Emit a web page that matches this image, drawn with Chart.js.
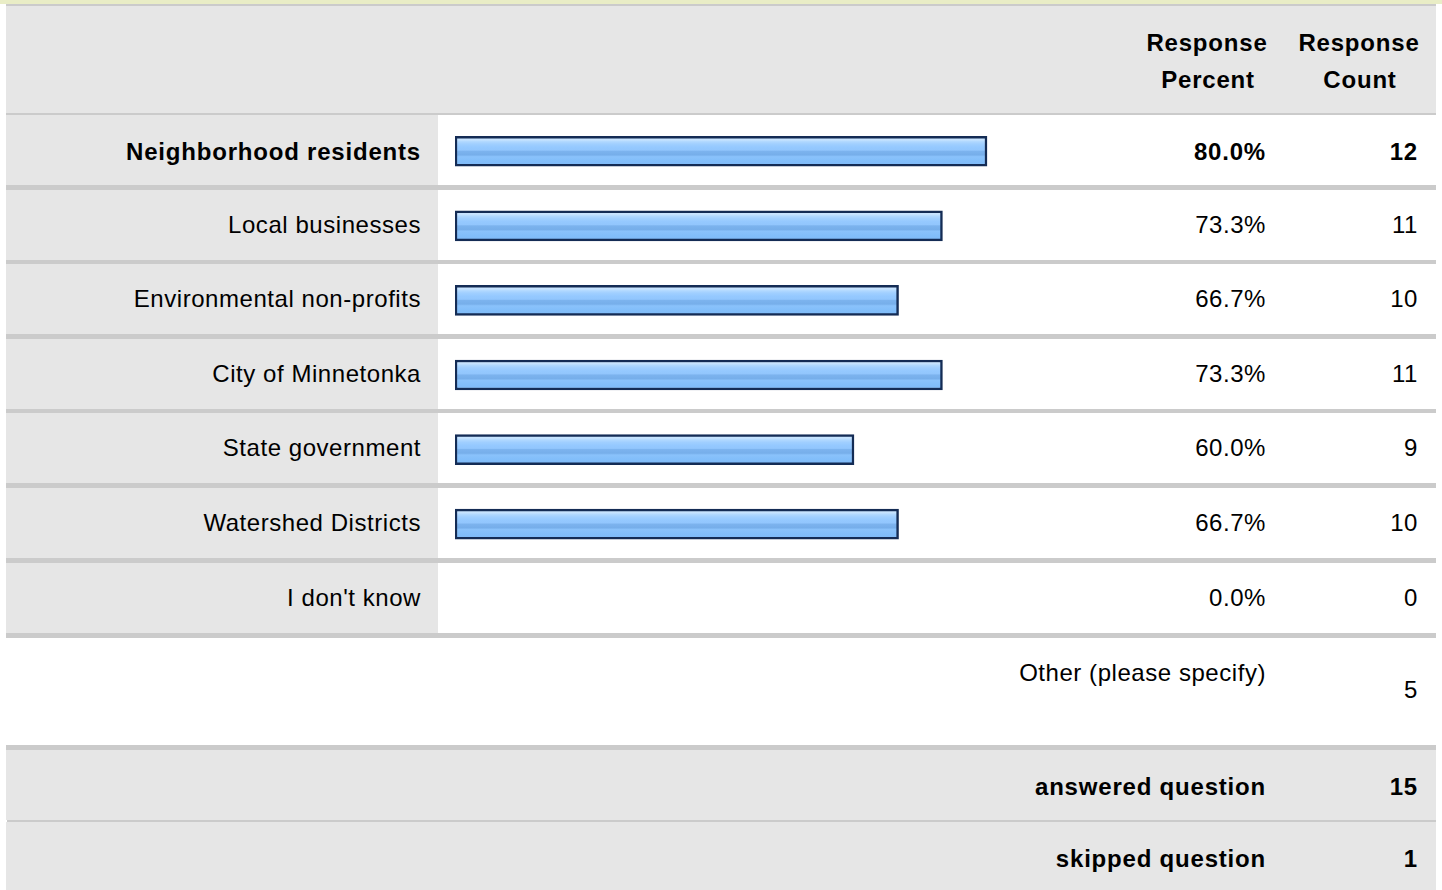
<!DOCTYPE html>
<html>
<head>
<meta charset="utf-8">
<script src="https://cdn.jsdelivr.net/npm/chart.js@4.4.0/dist/chart.umd.min.js"></script>
<style>
  body { margin: 0; width: 1442px; height: 890px; position: relative; overflow: hidden; background: #fff;
         font-family: "Liberation Sans", Arial, Helvetica, sans-serif; color: #000; }
  .box { position: absolute; }
  .txt { position: absolute; font-size: 24px; line-height: 30px; letter-spacing: 0.55px; white-space: nowrap; text-align: right; }
  .b { font-weight: bold; letter-spacing: 0.8px; }
  .c { text-align: center; }
</style>
</head>
<body>
<div id="page"></div>
<div class="box" style="left:438px; top:114px; width:682px; height:522px;">
  <canvas id="bars"></canvas>
</div>
<script>
const categories = ["Neighborhood residents", "Local businesses", "Environmental non-profits",
                    "City of Minnetonka", "State government", "Watershed Districts", "I don't know"];
const percents = [80.0, 73.3, 66.7, 73.3, 60.0, 66.7, 0.0];
const counts = [12, 11, 10, 11, 9, 10, 0];
const headerLabels = ["Response Percent", "Response Count"];
const otherLabel = "Other (please specify)";
const otherCount = 5;
const summaryLabels = ["answered question", "skipped question"];
const summaryCounts = [15, 1];

const page = document.getElementById("page");
function box(x, y, w, h, color) {
  const d = document.createElement("div");
  d.className = "box";
  d.style.cssText = `left:${x}px;top:${y}px;width:${w}px;height:${h}px;background:${color}`;
  page.appendChild(d);
}
function text(str, rightEdge, centerY, cls) {
  const d = document.createElement("div");
  d.className = "txt " + (cls || "");
  d.textContent = str;
  d.style.right = (1442 - rightEdge) + "px";
  d.style.top = (centerY - 15) + "px";
  page.appendChild(d);
}
function ctext(str, centerX, centerY, cls) {
  const d = document.createElement("div");
  d.className = "txt c " + (cls || "");
  d.textContent = str;
  d.style.left = (centerX - 100) + "px";
  d.style.width = "200px";
  d.style.top = (centerY - 15) + "px";
  page.appendChild(d);
}

const GRAY = "#e6e6e6", LINE = "#cbcbcb";
// top strip + header
box(0, 0, 1442, 4, "#e9edc6");
box(6, 4, 1430, 2, LINE);
box(6, 6, 1430, 107, GRAY);
box(6, 113, 1430, 2, LINE);
ctext(headerLabels[0].split(" ")[0], 1207, 43, "b");
ctext(headerLabels[0].split(" ")[1], 1208, 80, "b");
ctext(headerLabels[1].split(" ")[0], 1359, 43, "b");
ctext(headerLabels[1].split(" ")[1], 1360, 80, "b");

// answer rows
const rowTops = [115, 190, 264, 339, 413, 488, 563];
categories.forEach((cat, i) => {
  const top = rowTops[i];
  box(6, top, 432, 70, GRAY);
  box(6, top + 70, 1430, (i < 6 ? rowTops[i + 1] : 638) - top - 70, LINE);
  const cls = i === 0 ? "b" : "";
  const cy = i === 0 ? top + 37 : top + 35;
  text(cat, 421, cy, cls);
  text(percents[i].toFixed(1) + "%", 1266, cy, cls);
  text(String(counts[i]), 1418, cy, cls);
});

// other
text(otherLabel, 1266, 673);
text(String(otherCount), 1418, 690);
box(6, 745, 1430, 5, LINE);

// summary
box(6, 750, 1430, 70, GRAY);
box(7, 820, 1429, 2, LINE);
box(6, 822, 1430, 68, GRAY);
text(summaryLabels[0], 1266, 787, "b");
text(String(summaryCounts[0]), 1418, 787, "b");
text(summaryLabels[1], 1266, 859, "b");
text(String(summaryCounts[1]), 1418, 859, "b");

// bars
function barFill(c) {
  const ch = c.chart;
  if (!ch.chartArea || !ch.scales.y) return "#94c8ff";
  const y = ch.scales.y.getPixelForValue(c.dataIndex);
  const g = ch.ctx.createLinearGradient(0, y - 15, 0, y + 15);
  g.addColorStop(0.00, "#cde7ff");
  g.addColorStop(0.12, "#c6e3ff");
  g.addColorStop(0.18, "#b0d8ff");
  g.addColorStop(0.26, "#a0cfff");
  g.addColorStop(0.36, "#95c9ff");
  g.addColorStop(0.46, "#92c6fd");
  g.addColorStop(0.50, "#7cb3ee");
  g.addColorStop(0.62, "#76aeea");
  g.addColorStop(0.68, "#8ac2fb");
  g.addColorStop(0.82, "#82befa");
  g.addColorStop(1.00, "#7fbaf7");
  return g;
}

new Chart(document.getElementById("bars"), {
  type: "bar",
  data: {
    labels: categories,
    datasets: [{
      data: percents,
      backgroundColor: barFill,
      borderColor: "#142c55",
      borderWidth: 2.5,
      borderSkipped: false,
      barThickness: 30
    }]
  },
  options: {
    indexAxis: "y",
    responsive: true,
    maintainAspectRatio: false,
    animation: false,
    layout: { padding: { left: 17, right: 0, top: 0, bottom: 0 } },
    plugins: { legend: { display: false }, tooltip: { enabled: false } },
    scales: {
      x: { display: false, min: 0, max: 100 },
      y: { display: false }
    }
  }
});
</script>
</body>
</html>
